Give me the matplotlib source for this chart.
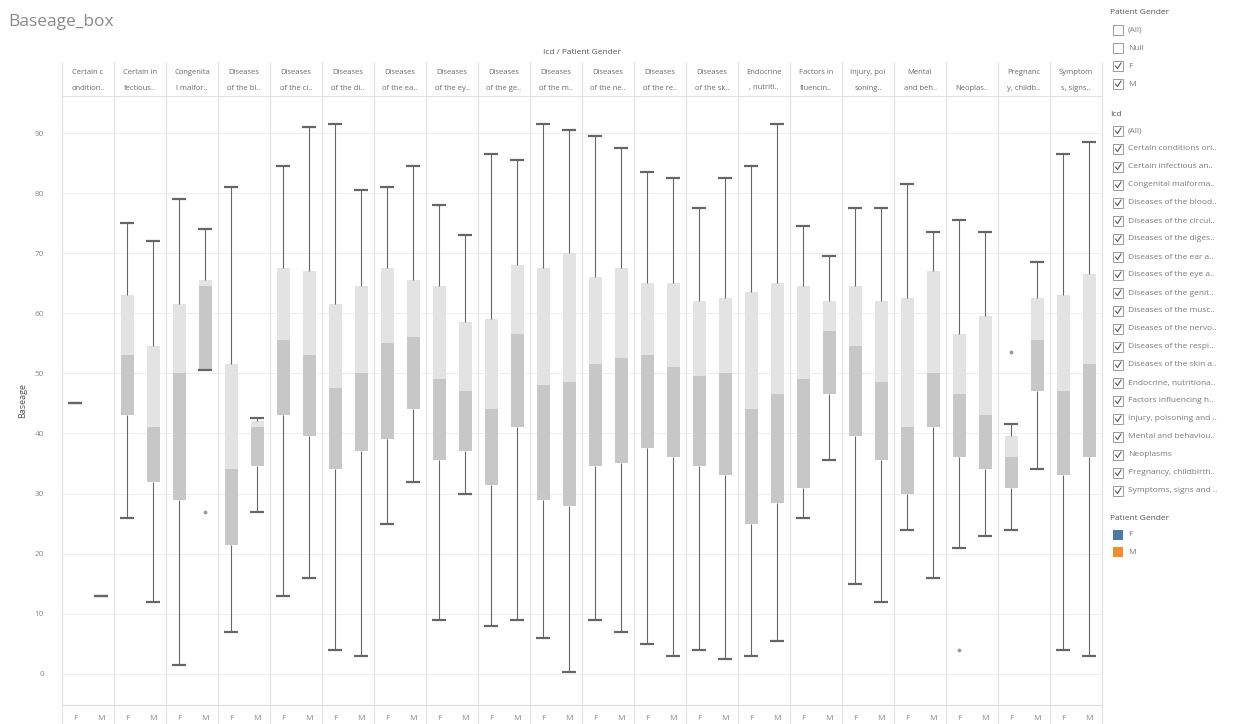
import matplotlib
matplotlib.use("Agg")
import matplotlib.pyplot as plt
from matplotlib.patches import Rectangle
from matplotlib.lines import Line2D

plt.rcParams['font.family'] = ['Open Sans', 'DejaVu Sans']

W, H = 1257, 724

# header text for each Icd column (as truncated in the view)
icd_line1 = ["Certain c", "Certain in", "Congenita", "Diseases", "Diseases", "Diseases",
             "Diseases", "Diseases", "Diseases", "Diseases", "Diseases", "Diseases",
             "Diseases", "Endocrine", "Factors in", "Injury, poi", "Mental", "",
             "Pregnanc", "Symptom"]
icd_line2 = ["ondition..", "fectious..", "l malfor..", "of the bl..", "of the ci..",
             "of the di..", "of the ea..", "of the ey..", "of the ge..", "of the m..",
             "of the ne..", "of the re..", "of the sk..", ", nutriti..", "fluencin..",
             "soning..", "and beh..", "Neoplas..", "y, childb..", "s, signs.."]
genders = ["F", "M"]

# box stats (whisker low, Q1, median, Q3, whisker high)
f_low = [45, 26, 1.4, 7, 13, 4, 25, 9, 8, 6, 9, 5, 4, 3, 26, 15, 24, 21, 24, 4]
f_q1 = [45, 43, 29, 21.5, 43, 34, 39, 35.5, 31.5, 29, 34.5, 37.5, 34.5, 25, 31, 39.5, 30, 36, 31, 33]
f_med = [45, 53, 50, 34, 55.5, 47.5, 55, 49, 44, 48, 51.5, 53, 49.5, 44, 49, 54.5, 41, 46.5, 36, 47]
f_q3 = [45, 63, 61.5, 51.5, 67.5, 61.5, 67.5, 64.5, 59, 67.5, 66, 65, 62, 63.5, 64.5, 64.5, 62.5, 56.5, 39.5, 63]
f_high = [45, 75, 79, 81, 84.5, 91.5, 81, 78, 86.5, 91.5, 89.5, 83.5, 77.5, 84.5, 74.5, 77.5, 81.5, 75.5, 41.5, 86.5]

m_low = [13, 12, 50.5, 27, 16, 3, 32, 30, 9, 0.3, 7, 3, 2.5, 5.5, 35.5, 12, 16, 23, 34, 3]
m_q1 = [13, 32, 50.5, 34.5, 39.5, 37, 44, 37, 41, 28, 35, 36, 33, 28.5, 46.5, 35.5, 41, 34, 47, 36]
m_med = [13, 41, 64.5, 41, 53, 50, 56, 47, 56.5, 48.5, 52.5, 51, 50, 46.5, 57, 48.5, 50, 43, 55.5, 51.5]
m_q3 = [13, 54.5, 65.5, 42, 67, 64.5, 65.5, 58.5, 68, 70, 67.5, 65, 62.5, 65, 62, 62, 67, 59.5, 62.5, 66.5]
m_high = [13, 72, 74, 42.5, 91, 80.5, 84.5, 73, 85.5, 90.5, 87.5, 82.5, 82.5, 91.5, 69.5, 77.5, 73.5, 73.5, 68.5, 88.5]

# outliers drawn outside the whiskers
out_icd = [2, 17, 18]
out_gender = [1, 0, 0]
out_val = [27, 4, 53.5]

y_ticks = [0, 10, 20, 30, 40, 50, 60, 70, 80, 90]

legend_gender = ["(All)", "Null", "F", "M"]
legend_gender_checked = [False, False, True, True]
legend_icd = ["(All)", "Certain conditions ori..", "Certain infectious an..",
              "Congenital malforma..", "Diseases of the blood..", "Diseases of the circul..",
              "Diseases of the diges..", "Diseases of the ear a..", "Diseases of the eye a..",
              "Diseases of the genit..", "Diseases of the musc..", "Diseases of the nervo..",
              "Diseases of the respi..", "Diseases of the skin a..", "Endocrine, nutritiona..",
              "Factors influencing h..", "Injury, poisoning and ..", "Mental and behaviou..",
              "Neoplasms", "Pregnancy, childbirth..", "Symptoms, signs and .."]
color_labels = ["F", "M"]
color_values = ["#4e79a7", "#f28e2b"]


def fx(x):
    return x / W


def fy(y):
    return 1 - y / H


fig = plt.figure(figsize=(W / 100, H / 100), dpi=100)

left, right, top, bottom = 62, 1102, 97, 705
ax = fig.add_axes([fx(left), fy(bottom), fx(right) - fx(left), (bottom - top) / H])
n = len(icd_line2)
ax.set_xlim(0, 2 * n)
ax.set_ylim(-5.2, 96.0)

light_box = "#e3e3e3"
dark_box = "#c7c7c7"
line_col = "#666666"

stats = [(f_low, f_q1, f_med, f_q3, f_high), (m_low, m_q1, m_med, m_q3, m_high)]
bw = 0.5
cw = 0.56
for g, (lo, q1, med, q3, hi) in enumerate(stats):
    xs = [2 * i + 0.5 + g for i in range(n)]
    ax.bar(xs, [b - a for a, b in zip(med, q3)], bottom=med, width=bw,
           color=light_box, zorder=2)
    ax.bar(xs, [b - a for a, b in zip(q1, med)], bottom=q1, width=bw,
           color=dark_box, zorder=2)
    ax.vlines(xs, lo, q1, color=line_col, lw=0.8, zorder=3)
    ax.vlines(xs, q3, hi, color=line_col, lw=0.8, zorder=3)
    ax.hlines(lo, [x - cw / 2 for x in xs], [x + cw / 2 for x in xs],
              color=line_col, lw=1.6, zorder=3)
    ax.hlines(hi, [x - cw / 2 for x in xs], [x + cw / 2 for x in xs],
              color=line_col, lw=1.6, zorder=3)

ax.scatter([2 * i + 0.5 + g for i, g in zip(out_icd, out_gender)], out_val,
           s=3, color="#9a9a9a", zorder=3)

# gridlines and panel separators
ax.set_yticks(y_ticks)
ax.set_yticklabels([str(v) for v in y_ticks])
ax.yaxis.grid(True, color="#efefef", lw=0.8)
ax.set_axisbelow(True)
ax.tick_params(axis="y", length=0, labelsize=6, labelcolor="#8a8a8a", pad=13)
ax.set_xticks([2 * i + 0.5 + g for i in range(n) for g in range(2)])
ax.set_xticklabels(genders * n)
ax.tick_params(axis="x", length=0, labelsize=6, labelcolor="#8a8a8a", pad=7)
for s in ["top", "right", "left"]:
    ax.spines[s].set_visible(False)
ax.spines["bottom"].set_color("#dddddd")
ax.set_ylabel("Baseage", fontsize=6.5, color="#555555", labelpad=2)
ax.yaxis.set_label_coords(-0.034, 0.5)

for k in range(n + 1):
    xp = left + k * (right - left) / n
    fig.add_artist(Line2D([fx(xp), fx(xp)], [fy(62), fy(724)], color="#e2e2e2", lw=0.8))
fig.add_artist(Line2D([fx(left), fx(right)], [fy(96), fy(96)], color="#e2e2e2", lw=0.8))

# headers
fig.text(fx(8), fy(22), "Baseage_box", fontsize=12.5, color="#8a8a8a", va="center")
fig.text(fx((left + right) / 2), fy(52), "Icd / Patient Gender", fontsize=6,
         color="#555555", ha="center", va="center")
for i in range(n):
    xc = left + (i + 0.5) * (right - left) / n
    fig.text(fx(xc), fy(73), icd_line1[i], fontsize=5.5, color="#6a6a6a",
             ha="center", va="center")
    fig.text(fx(xc), fy(88), icd_line2[i], fontsize=5.5, color="#6a6a6a",
             ha="center", va="center")


# legend panel on the right
def checkbox(y, checked):
    fig.add_artist(Rectangle((fx(1113), fy(y + 5)), 10 / W, 10 / H, transform=fig.transFigure,
                             fc="white", ec="#9a9a9a", lw=0.7))
    if checked:
        fig.add_artist(Line2D([fx(1115.5), fx(1117.5), fx(1121)], [fy(y), fy(y + 2.5), fy(y - 3)],
                              color="#555555", lw=0.8))


lx = 1128
fig.text(fx(1110), fy(13), "Patient Gender", fontsize=6, color="#555555", va="center")
for j, (lab, chk) in enumerate(zip(legend_gender, legend_gender_checked)):
    y = 30 + j * 18
    checkbox(y, chk)
    fig.text(fx(lx), fy(y), lab, fontsize=6, color="#7a7a7a", va="center")

fig.text(fx(1110), fy(115), "Icd", fontsize=6, color="#555555", va="center")
for j, lab in enumerate(legend_icd):
    y = 131 + j * 18
    checkbox(y, True)
    fig.text(fx(lx), fy(y), lab, fontsize=6, color="#7a7a7a", va="center")

fig.text(fx(1110), fy(518), "Patient Gender", fontsize=6, color="#555555", va="center")
for j, (lab, col) in enumerate(zip(color_labels, color_values)):
    y = 535 + j * 17
    fig.add_artist(Rectangle((fx(1113), fy(y + 5)), 10 / W, 10 / H, transform=fig.transFigure,
                             fc=col, ec="none"))
    fig.text(fx(lx), fy(y), lab, fontsize=6, color="#7a7a7a", va="center")

fig.savefig("out.png", dpi=100)
